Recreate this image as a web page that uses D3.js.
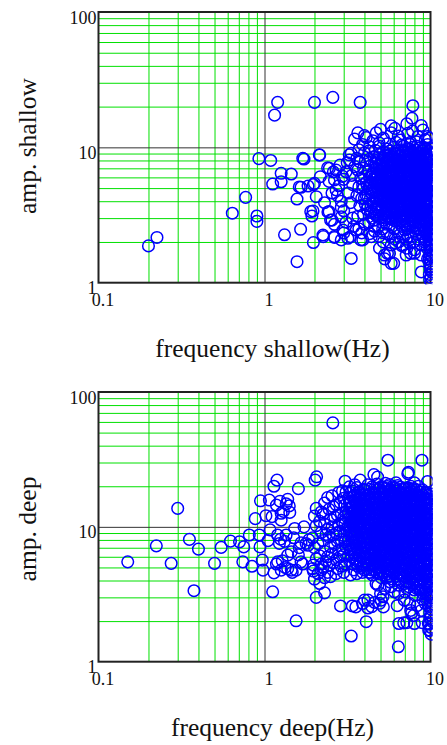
<!DOCTYPE html>
<html><head><meta charset="utf-8">
<script src="https://cdn.jsdelivr.net/npm/d3@7"></script>
<style>html,body{margin:0;padding:0;background:#fff;}svg{display:block;}</style>
</head><body>
<script>
// ---- tick definitions ----
const xMajorTicks = [0.1, 1, 10];
const xTickLabels = ["0.1", "1", "10"];
const yMajorTicks = [1, 10, 100];
const yTickLabels = ["1", "10", "100"];
const xMinorGrid = [0.2,0.3,0.4,0.5,0.6,0.7,0.8,0.9,2,3,4,5,6,7,8,9];
const yMinorGrid = [2,3,4,5,6,7,8,9,20,30,40,50,60,70,80,90];
const xDarkGrid = [1];
const yDarkGrid = [10];

const panelTitlesX = ["frequency shallow(Hz)", "frequency deep(Hz)"];
const panelTitlesY = ["amp. shallow", "amp. deep"];

// ---- shallow: [frequency Hz, amplitude] ----
const shallowData = [
[0.2,1.87],[0.225,2.16],[0.64,3.26],[0.77,4.27],[0.9,3.11],[0.9,2.84],[0.925,8.25],[1.09,8.0],[1.12,5.36],[1.26,6.43],[1.26,5.57],[1.45,6.35],
[1.2,21.5],[1.15,17.3],[2.0,21.5],[2.58,23.4],[3.77,21.5],[7.83,20.3],[7.73,16.4],[1.73,8.2],[2.15,8.78],[1.57,4.15],[1.65,2.48],[1.32,2.26],
[1.57,1.43],[1.97,1.98],[2.26,2.19],[1.66,5.07],[1.83,5.18],[2.0,5.42],[2.17,6.07],[2.05,4.32],[1.96,3.39],[1.93,3.11],[2.41,3.33],[2.55,2.9],
[2.46,7.0],[2.7,6.8],[3.33,1.51],[2.64,2.16],[2.97,2.45],[3.18,2.13],[3.57,2.45],[3.91,2.07],[3.33,9.04],[3.25,8.07],[3.49,11.5],[3.65,12.8],
[4.71,12.8],[5.8,14.4],[4.29,10.1],[7.3,12.7],[9.0,13.4],[8.8,1.2],[5.8,1.39],[5.28,1.6],[5.66,1.65],[4.93,1.8],[7.14,1.6],[6.82,1.9],[8.0,1.65],
[5.8,12.8],[9.6,12.0],[5.2,11.7],[6.6,11.3],[8.2,11.0],[3.24,8.8],[2.14,8.8],[1.7,8.3],[2.4,7.05],[2.6,6.6],[1.62,5.1],[1.97,5.3],[2.64,5.75],
[2.7,4.85],[2.75,4.4],[1.9,3.35],[2.45,3.35],[2.5,2.9],[2.9,3.07],[2.25,2.25],[2.63,2.19],[3.0,2.33],[3.3,2.19],[2.9,2.07],[3.8,2.07],[3.85,2.33],
[5.5,1.65],[6.0,1.39],[5.3,1.5],[7.6,1.65],[2.9,3.6],[2.3,3.9],[2.64,2.7],[4.4,2.19],[4.6,2.6],[5.2,2.33],[6.15,1.96],[6.7,1.88],[7.5,1.96],
[7.3,2.19],[7.0,2.45],[2.8,5.2],[2.9,4.0],[3.0,5.8],[3.1,6.6],[3.2,4.6],[3.0,3.4],[3.3,3.9],[3.4,5.3],[3.5,7.2],[3.1,2.8],[3.4,3.0],[2.85,7.4],
[3.6,8.3],[3.35,6.2],[2.95,6.1],[3.15,7.7],[2.55,4.6],[2.45,5.6],[3.45,2.6],[3.7,9.6],[3.9,10.5],[4.1,11.8],[4.5,11.2],[4.9,10.8],[5.5,10.6],
[6.2,10.9],[6.9,10.2],[7.6,10.9],[8.4,12.0],[9.3,11.4],[4.0,12.2],[5.0,13.6],[6.4,12.1],[7.8,13.2],[8.8,14.5],[6.1,13.8],[7.2,14.9],[9.8,11.7],
[3.7,2.5],[3.65,3.1],[3.75,3.7],[3.6,4.4],[3.7,5.1],[3.8,5.9],[3.65,6.8],[3.75,7.8],
[4.0,2.7],[3.95,3.2],[4.05,3.8],[4.0,4.2],[3.9,4.9],[4.1,5.5],[4.0,6.1],[3.95,7.0],[4.05,8.0],[4.0,9.1],
[4.3,2.3],[4.25,2.8],[4.35,3.3],[4.2,3.7],[4.3,4.1],[4.4,4.6],[4.25,5.0],[4.35,5.5],[4.3,6.0],[4.2,6.6],[4.35,7.3],[4.3,8.2],[4.25,9.4],
[4.6,2.4],[4.55,2.9],[4.65,3.2],[4.6,3.5],[4.5,3.9],[4.7,4.3],[4.6,4.7],[4.55,5.1],[4.65,5.5],[4.6,6.0],[4.5,6.5],[4.7,7.0],[4.6,7.7],[4.55,8.5],[4.65,9.5],
[4.9,2.2],[4.85,2.6],[4.95,3.0],[4.9,3.3],[4.8,3.6],[5.0,4.0],[4.9,4.4],[4.85,4.8],[4.95,5.2],[4.9,5.7],[4.8,6.2],[5.0,6.8],[4.9,7.4],[4.85,8.1],[4.95,8.9],[4.9,10.2],
[5.2,2.0],[5.15,2.5],[5.25,2.9],[5.2,3.2],[5.1,3.5],[5.3,3.8],[5.2,4.2],[5.15,4.6],[5.25,5.0],[5.2,5.4],[5.1,5.9],[5.3,6.4],[5.2,7.0],[5.15,7.6],[5.25,8.4],[5.2,9.3],
[5.5,2.3],[5.45,2.7],[5.55,3.05],[5.5,3.35],[5.4,3.7],[5.6,4.0],[5.5,4.4],[5.45,4.8],[5.55,5.2],[5.5,5.6],[5.4,6.1],[5.6,6.6],[5.5,7.2],[5.45,7.9],[5.55,8.7],[5.5,9.7],
[5.8,1.9],[5.75,2.2],[5.85,2.6],[5.8,2.95],[5.7,3.25],[5.9,3.6],[5.8,3.9],[5.75,4.3],[5.85,4.7],[5.8,5.1],[5.7,5.5],[5.9,6.0],[5.8,6.5],[5.75,7.1],[5.85,7.7],[5.8,8.5],[5.7,9.4],
[6.1,2.1],[6.05,2.5],[6.15,2.85],[6.1,3.15],[6.0,3.45],[6.2,3.8],[6.1,4.1],[6.05,4.5],[6.15,4.9],[6.1,5.3],[6.0,5.7],[6.2,6.2],[6.1,6.8],[6.05,7.4],[6.15,8.1],[6.1,8.9],[6.0,10.0],
[6.45,2.0],[6.4,2.35],[6.5,2.75],[6.45,3.05],[6.35,3.35],[6.55,3.7],[6.45,4.0],[6.4,4.4],[6.5,4.8],[6.45,5.2],[6.35,5.6],[6.55,6.1],[6.45,6.6],[6.4,7.2],[6.5,7.8],[6.45,8.6],[6.35,9.5],
[6.8,2.2],[6.75,2.6],[6.85,2.95],[6.8,3.25],[6.7,3.55],[6.9,3.9],[6.8,4.2],[6.75,4.6],[6.85,5.0],[6.8,5.4],[6.7,5.9],[6.9,6.4],[6.8,7.0],[6.75,7.6],[6.85,8.3],[6.8,9.1],[6.7,10.4],
[7.2,1.8],[7.15,2.1],[7.25,2.5],[7.2,2.85],[7.1,3.15],[7.3,3.5],[7.2,3.8],[7.15,4.1],[7.25,4.5],[7.2,4.9],[7.1,5.3],[7.3,5.8],[7.2,6.3],[7.15,6.8],[7.25,7.4],[7.2,8.0],[7.1,8.8],[7.3,9.7],
[7.6,2.2],[7.55,2.6],[7.65,2.9],[7.6,3.2],[7.5,3.5],[7.7,3.85],[7.6,4.2],[7.55,4.6],[7.65,5.0],[7.6,5.5],[7.5,6.0],[7.7,6.5],[7.6,7.1],[7.55,7.7],[7.65,8.4],[7.6,9.3],[7.5,10.6],
[8.0,1.75],[7.95,2.0],[8.05,2.4],[8.0,2.8],[7.9,3.1],[8.1,3.4],[8.0,3.7],[7.95,4.0],[8.05,4.4],[8.0,4.8],[7.9,5.2],[8.1,5.7],[8.0,6.2],[7.95,6.7],[8.05,7.3],[8.0,7.9],[7.9,8.6],[8.1,9.6],
[8.4,2.1],[8.35,2.5],[8.45,2.8],[8.4,3.1],[8.3,3.4],[8.5,3.75],[8.4,4.1],[8.35,4.5],[8.45,4.9],[8.4,5.4],[8.3,5.9],[8.5,6.4],[8.4,7.0],[8.35,7.6],[8.45,8.3],[8.4,9.1],[8.3,10.2],
[8.8,1.6],[8.75,1.9],[8.85,2.3],[8.8,2.7],[8.7,3.0],[8.9,3.3],[8.8,3.6],[8.75,3.9],[8.85,4.3],[8.8,4.7],[8.7,5.1],[8.9,5.6],[8.8,6.1],[8.75,6.6],[8.85,7.2],[8.8,7.8],[8.7,8.5],[8.9,9.4],
[9.2,2.0],[9.15,2.4],[9.25,2.8],[9.2,3.1],[9.1,3.4],[9.3,3.7],[9.2,4.1],[9.15,4.5],[9.25,4.9],[9.2,5.3],[9.1,5.8],[9.3,6.3],[9.2,6.9],[9.15,7.5],[9.25,8.2],[9.2,9.0],[9.1,9.9],
[9.6,1.5],[9.55,1.8],[9.65,2.2],[9.6,2.6],[9.5,2.9],[9.7,3.2],[9.6,3.5],[9.55,3.8],[9.65,4.2],[9.6,4.6],[9.5,5.0],[9.7,5.5],[9.6,6.0],[9.55,6.5],[9.65,7.1],[9.6,7.7],[9.5,8.4],[9.7,9.3],[9.6,10.5],
[9.95,1.3],[9.9,1.6],[10.0,1.9],[9.95,2.3],[9.85,2.7],[10.0,3.0],[9.95,3.3],[9.9,3.7],[10.0,4.0],[9.95,4.4],[9.85,4.8],[10.0,5.2],[9.95,5.7],[9.9,6.2],[10.0,6.8],[9.95,7.4],[9.85,8.1],[10.0,8.9],[9.95,9.8],
[10.1,1.0],[9.9,1.05],[10.05,1.1],[9.85,1.15],[10.15,1.2],[9.95,1.25],[10.1,1.32],[9.9,1.38],[10.05,1.45],[9.8,1.5],[10.15,1.55],[9.95,1.62],[10.1,1.7],[9.9,1.76],
[10.05,1.84],[9.85,1.92],[10.15,2.0],[9.95,2.08],[10.1,2.17],[9.9,2.26],[10.05,2.36],[9.85,2.46],[10.15,2.55],[9.95,2.66],[10.1,2.78],[9.9,2.9],[10.05,3.02],[9.85,3.15]
];

// densest part of the shallow cloud (overlapping markers read as solid blue)
const shallowCoreData = [
[4.75,3.1],[4.7,3.45],[4.8,3.8],[4.75,4.2],[4.7,4.6],[4.8,5.0],[4.75,5.45],[4.7,5.9],[4.8,6.4],[4.75,7.0],[4.7,7.6],[4.8,8.3],
[5.05,3.05],[5.0,3.4],[5.1,3.7],[5.05,4.1],[5.0,4.5],[5.1,4.9],[5.05,5.3],[5.0,5.75],[5.1,6.2],[5.05,6.7],[5.0,7.3],[5.1,8.0],
[5.35,3.0],[5.3,3.3],[5.4,3.6],[5.35,3.95],[5.3,4.35],[5.4,4.75],[5.35,5.15],[5.3,5.6],[5.4,6.05],[5.35,6.55],[5.3,7.1],[5.4,7.8],[5.35,8.6],
[5.65,3.1],[5.6,3.45],[5.7,3.8],[5.65,4.15],[5.6,4.55],[5.7,4.95],[5.65,5.35],[5.6,5.8],[5.7,6.3],[5.65,6.85],[5.6,7.4],[5.7,8.1],[5.65,8.9],
[5.95,3.0],[5.9,3.35],[6.0,3.7],[5.95,4.05],[5.9,4.45],[6.0,4.85],[5.95,5.25],[5.9,5.7],[6.0,6.15],[5.95,6.65],[5.9,7.2],[6.0,7.9],[5.95,8.7],
[6.3,2.9],[6.25,3.25],[6.35,3.55],[6.3,3.9],[6.25,4.25],[6.35,4.65],[6.3,5.05],[6.25,5.45],[6.35,5.9],[6.3,6.4],[6.25,6.95],[6.35,7.5],[6.3,8.2],[6.25,9.0],
[6.6,2.85],[6.55,3.15],[6.65,3.45],[6.6,3.8],[6.55,4.15],[6.65,4.55],[6.6,4.95],[6.55,5.35],[6.65,5.8],[6.6,6.3],[6.55,6.85],[6.65,7.4],[6.6,8.0],[6.55,8.8],[6.65,9.6],
[7.0,2.7],[6.95,3.05],[7.05,3.4],[7.0,3.7],[6.95,4.05],[7.05,4.4],[7.0,4.8],[6.95,5.2],[7.05,5.6],[7.0,6.1],[6.95,6.6],[7.05,7.2],[7.0,7.8],[6.95,8.5],[7.05,9.3],
[7.4,2.75],[7.35,3.05],[7.45,3.4],[7.4,3.7],[7.35,4.0],[7.45,4.4],[7.4,4.8],[7.35,5.25],[7.45,5.7],[7.4,6.2],[7.35,6.75],[7.45,7.35],[7.4,8.0],[7.35,8.8],[7.45,9.7],
[7.8,2.6],[7.75,2.95],[7.85,3.3],[7.8,3.6],[7.75,3.9],[7.85,4.25],[7.8,4.6],[7.75,5.0],[7.85,5.45],[7.8,5.9],[7.75,6.45],[7.85,7.0],[7.8,7.6],[7.75,8.3],[7.85,9.1],[7.8,10.0],
[8.2,2.3],[8.15,2.65],[8.25,2.95],[8.2,3.25],[8.15,3.55],[8.25,3.9],[8.2,4.25],[8.15,4.65],[8.25,5.1],[8.2,5.55],[8.15,6.05],[8.25,6.6],[8.2,7.2],[8.15,7.9],[8.25,8.7],
[8.6,2.45],[8.55,2.85],[8.65,3.15],[8.6,3.45],[8.55,3.8],[8.65,4.15],[8.6,4.55],[8.55,4.95],[8.65,5.35],[8.6,5.8],[8.55,6.35],[8.65,6.9],[8.6,7.5],[8.55,8.2],[8.65,9.0],[8.6,9.9],
[9.0,2.2],[8.95,2.6],[9.05,2.95],[9.0,3.25],[8.95,3.55],[9.05,3.9],[9.0,4.3],[8.95,4.7],[9.05,5.1],[9.0,5.55],[8.95,6.05],[9.05,6.6],[9.0,7.2],[8.95,7.85],[9.05,8.6],[9.0,9.5],
[9.4,2.05],[9.35,2.45],[9.45,2.75],[9.4,3.05],[9.35,3.35],[9.45,3.65],[9.4,4.0],[9.35,4.4],[9.45,4.8],[9.4,5.2],[9.35,5.65],[9.45,6.15],[9.4,6.7],[9.35,7.3],[9.45,8.0],[9.4,8.8],[9.35,9.7],
[9.8,2.1],[9.75,2.5],[9.85,2.85],[9.8,3.15],[9.75,3.45],[9.85,3.85],[9.8,4.2],[9.75,4.6],[9.85,5.0],[9.8,5.45],[9.75,5.95],[9.85,6.5],[9.8,7.1],[9.75,7.7],[9.85,8.5],[9.8,9.3],
[4.45,3.0],[4.4,3.4],[4.5,4.0],[4.45,4.8],[4.4,5.3],[4.5,5.8],[4.45,6.3],[4.15,3.5],[4.1,4.4],[4.15,5.2],[3.85,4.2],[3.9,5.3]
];

// ---- deep: [frequency Hz, amplitude] ----
const deepData = [
[0.15,5.5],[0.223,7.23],[0.274,5.36],[0.30,13.7],[0.353,8.07],[0.40,6.84],[0.376,3.36],[0.5,5.36],[0.548,7.04],[0.624,7.84],[0.707,7.74],[0.75,7.1],
[0.74,5.5],[0.84,5.1],[0.81,8.7],[0.88,11.5],[0.93,8.7],[0.94,7.1],[0.97,5.67],[0.98,4.78],[0.946,15.6],[1.07,15.8],[1.12,3.3],[1.14,4.56],[1.19,22.2],
[1.14,20.0],[1.11,11.9],[1.26,11.2],[1.18,14.5],[1.38,16.0],[1.41,14.3],[1.6,19.2],[1.26,12.6],[1.2,8.7],[1.23,7.53],[1.35,8.7],[1.45,6.53],[1.38,6.17],
[1.2,5.5],[1.26,4.78],[1.45,4.78],[1.55,4.78],[1.66,5.5],[1.52,9.73],[1.73,10.0],[1.78,7.53],[1.55,2.01],[2.05,3.0],[2.3,3.24],[2.02,22.2],[2.06,23.5],
[2.58,59],[3.06,21.8],[3.77,22.2],[4.56,24.4],[4.8,23.4],[5.54,31.2],[8.88,31.2],[7.37,25.4],[9.6,21.7],[6.2,21.2],[8.0,21.2],[2.87,2.59],[3.38,2.59],
[3.33,1.55],[4.1,1.98],[4.0,2.86],[4.43,2.56],[4.93,2.71],[5.17,3.03],[4.82,3.7],[6.4,1.29],[6.45,1.92],[6.9,1.94],[8.0,1.92],[7.9,2.2],[7.7,2.3],
[6.95,2.86],[6.06,3.3],[6.4,3.2],[8.1,3.1],[9.75,1.72],[9.7,1.92],[7.3,24.8],[5.05,2.86],[4.2,2.86],[4.7,3.8],[5.54,4.5],[7.6,2.4],[8.8,2.4],[9.3,2.7],
[9.6,4.5],[4.0,4.78],[1.05,7.9],[1.25,8.1],[1.32,7.8],[1.18,5.3],[1.33,5.0],[1.28,5.6],[1.38,4.9],[1.3,13.0],[1.35,14.8],[1.24,15.5],[1.42,12.8],
[1.02,12.1],[1.08,9.5],[1.5,8.3],[1.6,6.2],[1.7,5.3],[1.62,7.0],[1.85,8.0],[1.83,7.3],[1.66,7.6],[1.47,4.6],[1.97,4.7],[1.97,5.2],[2.2,4.8],[2.4,4.6],
[2.5,4.27],[2.7,4.5],[3.0,4.6],[3.3,4.4],[3.6,4.5],[4.3,4.6],[2.05,13.7],[2.2,12.9],[3.55,2.55],[3.9,2.7],[4.2,2.5],[4.6,2.75],[5.0,3.2],[5.3,3.5],
[5.2,2.55],[8.3,2.6],[8.6,3.4],[9.0,2.9],[8.9,1.95],[7.2,1.95],[7.5,2.7],[5.8,3.6],[6.3,2.6],[7.0,3.3],[7.4,3.6],
[2.0,4.1],[1.95,4.9],[2.05,5.8],[2.0,7.0],[1.95,8.3],[2.05,10.2],[2.0,12.0],
[2.15,3.8],[2.1,4.5],[2.2,5.3],[2.15,6.1],[2.1,7.5],[2.2,9.1],[2.15,11.0],
[2.3,4.2],[2.25,5.0],[2.35,5.6],[2.3,6.6],[2.25,7.9],[2.35,8.8],[2.3,10.5],[2.25,12.4],[2.3,15.0],
[2.45,5.2],[2.4,6.0],[2.5,7.1],[2.45,8.4],[2.4,9.6],[2.5,11.4],[2.45,13.5],[2.4,16.5],
[2.6,5.4],[2.55,6.3],[2.65,7.4],[2.6,8.7],[2.55,10.0],[2.65,11.8],[2.6,14.1],[2.55,17.0],
[2.75,4.9],[2.7,5.7],[2.8,6.7],[2.75,7.8],[2.7,9.0],[2.8,10.4],[2.75,12.2],[2.7,14.6],[2.8,18.0],
[2.9,5.1],[2.85,6.0],[2.95,6.9],[2.9,8.0],[2.85,9.3],[2.95,10.8],[2.9,12.6],[2.85,15.2],[2.95,18.5],
[3.05,5.3],[3.0,6.2],[3.1,7.1],[3.05,7.7],[3.0,8.6],[3.1,9.6],[3.05,10.5],[3.0,11.7],[3.1,13.0],[3.05,14.5],[3.0,16.3],[3.1,18.2],
[3.25,5.6],[3.2,6.1],[3.3,6.7],[3.25,7.3],[3.2,7.9],[3.3,8.5],[3.25,9.2],[3.2,10.0],[3.3,10.8],[3.25,11.7],[3.2,12.7],[3.3,13.8],[3.25,15.0],[3.2,16.4],[3.3,18.0],[3.25,19.8],
[3.45,4.8],[3.4,5.3],[3.5,5.8],[3.45,6.4],[3.4,7.0],[3.5,7.6],[3.45,8.2],[3.4,8.9],[3.5,9.6],[3.45,10.4],[3.4,11.2],[3.5,12.1],[3.45,13.1],[3.4,14.2],[3.5,15.4],[3.45,16.8],[3.4,18.4],[3.5,20.5],
[3.65,5.1],[3.6,5.6],[3.7,6.1],[3.65,6.7],[3.6,7.3],[3.7,7.9],[3.65,8.6],[3.6,9.3],[3.7,10.1],[3.65,10.9],[3.6,11.8],[3.7,12.8],[3.65,13.9],[3.6,15.1],[3.7,16.5],[3.65,18.0],[3.6,19.6],
[3.9,4.6],[3.85,5.0],[3.95,5.5],[3.9,6.0],[3.8,6.5],[3.95,7.1],[3.9,7.7],[3.85,8.3],[3.95,9.0],[3.9,9.8],[3.8,10.6],[3.95,11.5],[3.9,12.4],[3.85,13.4],[3.95,14.6],[3.9,15.9],[3.8,17.3],[3.95,19.0],
[4.15,4.9],[4.1,5.4],[4.2,5.9],[4.15,6.4],[4.05,7.0],[4.2,7.6],[4.15,8.2],[4.1,8.9],[4.2,9.7],[4.15,10.5],[4.05,11.4],[4.2,12.3],[4.15,13.3],[4.1,14.4],[4.2,15.7],[4.15,17.1],[4.05,18.7],[4.2,20.5],
[4.45,4.4],[4.4,4.8],[4.5,5.2],[4.45,5.7],[4.35,6.2],[4.5,6.7],[4.45,7.3],[4.4,7.9],[4.5,8.6],[4.45,9.3],[4.35,10.1],[4.5,10.9],[4.45,11.8],[4.4,12.8],[4.5,13.9],[4.45,15.1],[4.35,16.5],[4.5,18.0],[4.45,19.8],
[4.75,4.6],[4.7,5.0],[4.8,5.5],[4.75,6.0],[4.65,6.5],[4.8,7.0],[4.75,7.6],[4.7,8.3],[4.8,9.0],[4.75,9.7],[4.65,10.5],[4.8,11.4],[4.75,12.4],[4.7,13.5],[4.8,14.7],[4.75,16.0],[4.65,17.4],[4.8,19.0],[4.75,20.8],
[5.05,4.2],[5.0,4.7],[5.1,5.2],[5.05,5.7],[4.95,6.2],[5.1,6.8],[5.05,7.4],[5.0,8.0],[5.1,8.7],[5.05,9.4],[4.95,10.2],[5.1,11.1],[5.05,12.0],[5.0,13.0],[5.1,14.1],[5.05,15.3],[4.95,16.7],[5.1,18.2],[5.05,19.9],
[5.35,4.4],[5.3,4.9],[5.4,5.4],[5.35,5.9],[5.25,6.4],[5.4,7.0],[5.35,7.6],[5.3,8.2],[5.4,8.9],[5.35,9.7],[5.25,10.5],[5.4,11.4],[5.35,12.4],[5.3,13.5],[5.4,14.7],[5.35,16.0],[5.25,17.5],[5.4,19.2],[5.35,21.0],
[5.7,3.9],[5.65,4.3],[5.75,4.8],[5.7,5.3],[5.6,5.8],[5.75,6.3],[5.7,6.9],[5.65,7.5],[5.75,8.1],[5.7,8.8],[5.6,9.6],[5.75,10.4],[5.7,11.3],[5.65,12.3],[5.75,13.3],[5.7,14.5],[5.6,15.8],[5.75,17.2],[5.7,18.8],[5.65,20.6],
[6.05,4.5],[6.0,5.0],[6.1,5.5],[6.05,6.0],[5.95,6.6],[6.1,7.2],[6.05,7.8],[6.0,8.5],[6.1,9.2],[6.05,10.0],[5.95,10.9],[6.1,11.8],[6.05,12.8],[6.0,13.9],[6.1,15.1],[6.05,16.4],[5.95,17.9],[6.1,19.6],
[6.4,3.7],[6.35,4.1],[6.45,4.6],[6.4,5.1],[6.3,5.6],[6.45,6.1],[6.4,6.7],[6.35,7.3],[6.45,7.9],[6.4,8.6],[6.3,9.4],[6.45,10.2],[6.4,11.1],[6.35,12.0],[6.45,13.1],[6.4,14.2],[6.3,15.5],[6.45,16.9],[6.4,18.5],[6.35,20.2],
[6.8,4.3],[6.75,4.8],[6.85,5.3],[6.8,5.8],[6.7,6.3],[6.85,6.9],[6.8,7.5],[6.75,8.2],[6.85,8.9],[6.8,9.7],[6.7,10.5],[6.85,11.4],[6.8,12.4],[6.75,13.5],[6.85,14.7],[6.8,16.0],[6.7,17.5],[6.85,19.2],
[7.2,3.5],[7.15,3.9],[7.25,4.4],[7.2,4.9],[7.1,5.4],[7.25,5.9],[7.2,6.5],[7.15,7.1],[7.25,7.7],[7.2,8.4],[7.1,9.1],[7.25,9.9],[7.2,10.8],[7.15,11.7],[7.25,12.7],[7.2,13.8],[7.1,15.0],[7.25,16.3],[7.2,17.8],[7.15,19.5],
[7.6,4.1],[7.55,4.6],[7.65,5.1],[7.6,5.6],[7.5,6.1],[7.65,6.7],[7.6,7.3],[7.55,7.9],[7.65,8.6],[7.6,9.3],[7.5,10.1],[7.65,11.0],[7.6,12.0],[7.55,13.0],[7.65,14.1],[7.6,15.4],[7.5,16.8],[7.65,18.3],[7.6,20.0],
[8.0,3.4],[7.95,3.8],[8.05,4.3],[8.0,4.8],[7.9,5.3],[8.05,5.8],[8.0,6.3],[7.95,6.9],[8.05,7.5],[8.0,8.2],[7.9,8.9],[8.05,9.7],[8.0,10.5],[7.95,11.4],[8.05,12.4],[8.0,13.5],[7.9,14.7],[8.05,16.0],[8.0,17.5],[7.95,19.2],
[8.5,3.6],[8.45,4.0],[8.55,4.5],[8.5,5.0],[8.4,5.5],[8.55,6.0],[8.5,6.6],[8.45,7.2],[8.55,7.8],[8.5,8.5],[8.4,9.3],[8.55,10.1],[8.5,11.0],[8.45,11.9],[8.55,12.9],[8.5,14.0],[8.4,15.3],[8.55,16.7],[8.5,18.2],[8.45,20.0],
[9.0,3.2],[8.95,3.6],[9.05,4.1],[9.0,4.6],[8.9,5.1],[9.05,5.6],[9.0,6.1],[8.95,6.7],[9.05,7.3],[9.0,8.0],[8.9,8.7],[9.05,9.5],[9.0,10.3],[8.95,11.2],[9.05,12.2],[9.0,13.3],[8.9,14.5],[9.05,15.8],[9.0,17.2],[8.95,18.8],
[9.5,3.0],[9.45,3.4],[9.55,3.8],[9.5,4.3],[9.4,4.8],[9.55,5.3],[9.5,5.8],[9.45,6.4],[9.55,7.0],[9.5,7.6],[9.4,8.3],[9.55,9.0],[9.5,9.8],[9.45,10.7],[9.55,11.6],[9.5,12.6],[9.4,13.7],[9.55,14.9],[9.5,16.2],[9.45,17.7],
[9.9,5.2],[9.85,5.7],[9.95,6.3],[9.9,6.9],[9.8,7.5],[9.95,8.2],[9.9,8.9],[9.85,9.7],[9.95,10.6],[9.9,11.5],[9.8,12.5],[9.95,13.6],[9.9,14.8],[9.85,16.1],[9.95,17.6],
[10.1,1.6],[9.9,1.7],[10.05,1.8],[9.85,1.9],[10.15,2.0],[9.95,2.1],[10.1,2.2],[9.9,2.32],[10.05,2.45],[9.85,2.58],[10.15,2.7],[9.95,2.85],[10.1,3.0],
[9.9,3.15],[10.05,3.3],[9.85,3.5],[10.15,3.7],[9.95,3.9],[10.1,4.1],[9.9,4.35],[10.05,4.6],[9.85,4.85]
];

// densest part of the deep cloud
const deepCoreData = [
[3.35,6.0],[3.3,6.9],[3.4,7.7],[3.35,8.6],[3.3,9.4],[3.4,10.2],[3.35,11.0],[3.3,11.9],[3.4,12.9],[3.35,14.0],[3.3,15.3],[3.4,16.7],
[3.55,5.4],[3.5,6.2],[3.6,7.0],[3.55,7.8],[3.5,8.5],[3.6,9.2],[3.55,10.0],[3.5,10.8],[3.6,11.6],[3.55,12.5],[3.5,13.5],[3.6,14.6],[3.55,15.9],[3.5,17.3],
[3.8,5.3],[3.75,6.2],[3.8,7.0],[3.75,7.6],[3.8,8.4],[3.75,9.1],[3.8,10.0],[3.75,10.8],[3.8,11.7],[3.75,12.7],[3.8,13.8],[3.75,15.0],[3.8,16.4],[3.75,18.0],
[4.0,5.2],[3.98,5.8],[4.02,6.4],[4.0,7.0],[3.98,7.6],[4.02,8.3],[4.0,9.0],[3.98,9.8],[4.02,10.6],[4.0,11.5],[3.98,12.5],[4.02,13.6],[4.0,14.8],[3.98,16.2],[4.02,17.6],
[4.3,4.6],[4.28,5.2],[4.32,5.7],[4.3,6.3],[4.28,6.9],[4.32,7.5],[4.3,8.2],[4.28,8.9],[4.32,9.7],[4.3,10.5],[4.28,11.4],[4.32,12.4],[4.3,13.5],[4.28,14.7],[4.32,16.0],[4.3,17.4],[4.28,19.0],
[4.6,4.8],[4.58,5.3],[4.62,5.9],[4.6,6.4],[4.58,7.0],[4.62,7.6],[4.6,8.3],[4.58,9.0],[4.62,9.8],[4.6,10.6],[4.58,11.5],[4.62,12.5],[4.6,13.6],[4.58,14.8],[4.62,16.1],[4.6,17.6],[4.58,19.2],
[4.9,4.5],[4.88,5.0],[4.92,5.5],[4.9,6.0],[4.88,6.6],[4.92,7.2],[4.9,7.8],[4.88,8.5],[4.92,9.2],[4.9,10.0],[4.88,10.8],[4.92,11.7],[4.9,12.7],[4.88,13.8],[4.92,15.0],[4.9,16.3],[4.88,17.8],[4.92,19.4],
[5.2,4.6],[5.18,5.1],[5.22,5.6],[5.2,6.1],[5.18,6.7],[5.22,7.3],[5.2,7.9],[5.18,8.6],[5.22,9.3],[5.2,10.1],[5.18,10.9],[5.22,11.8],[5.2,12.8],[5.18,13.9],[5.22,15.1],[5.2,16.4],[5.18,17.9],[5.22,19.5],
[5.5,4.2],[5.48,4.7],[5.52,5.2],[5.5,5.7],[5.48,6.2],[5.52,6.8],[5.5,7.4],[5.48,8.0],[5.52,8.7],[5.5,9.4],[5.48,10.2],[5.52,11.1],[5.5,12.0],[5.48,13.0],[5.52,14.1],[5.5,15.3],[5.48,16.7],[5.52,18.2],[5.5,19.9],
[5.9,4.1],[5.88,4.6],[5.92,5.1],[5.9,5.6],[5.88,6.1],[5.92,6.7],[5.9,7.3],[5.88,7.9],[5.92,8.6],[5.9,9.3],[5.88,10.1],[5.92,11.0],[5.9,11.9],[5.88,12.9],[5.92,14.0],[5.9,15.2],[5.88,16.6],[5.92,18.1],[5.9,19.8],
[6.2,4.3],[6.18,4.8],[6.22,5.3],[6.2,5.8],[6.18,6.3],[6.22,6.9],[6.2,7.5],[6.18,8.1],[6.22,8.8],[6.2,9.6],[6.18,10.4],[6.22,11.3],[6.2,12.3],[6.18,13.4],[6.22,14.6],[6.2,15.9],[6.18,17.3],[6.22,18.9],
[6.6,4.0],[6.58,4.5],[6.62,5.0],[6.6,5.5],[6.58,6.0],[6.62,6.6],[6.6,7.2],[6.58,7.8],[6.62,8.5],[6.6,9.2],[6.58,10.0],[6.62,10.9],[6.6,11.8],[6.58,12.8],[6.62,13.9],[6.6,15.1],[6.58,16.5],[6.62,18.0],[6.6,19.7],
[7.0,3.8],[6.98,4.3],[7.02,4.8],[7.0,5.3],[6.98,5.8],[7.02,6.4],[7.0,7.0],[6.98,7.6],[7.02,8.3],[7.0,9.0],[6.98,9.8],[7.02,10.6],[7.0,11.5],[6.98,12.5],[7.02,13.6],[7.0,14.8],[6.98,16.1],[7.02,17.6],[7.0,19.2],
[7.4,3.9],[7.38,4.4],[7.42,4.9],[7.4,5.4],[7.38,5.9],[7.42,6.5],[7.4,7.1],[7.38,7.7],[7.42,8.4],[7.4,9.1],[7.38,9.9],[7.42,10.7],[7.4,11.6],[7.38,12.6],[7.42,13.7],[7.4,14.9],[7.38,16.2],[7.42,17.7],[7.4,19.4],
[7.8,3.7],[7.78,4.2],[7.82,4.7],[7.8,5.2],[7.78,5.7],[7.82,6.2],[7.8,6.8],[7.78,7.4],[7.82,8.1],[7.8,8.8],[7.78,9.6],[7.82,10.4],[7.8,11.3],[7.78,12.3],[7.82,13.4],[7.8,14.6],[7.78,15.9],[7.82,17.3],[7.8,18.9],
[8.25,3.5],[8.23,4.0],[8.27,4.5],[8.25,5.0],[8.23,5.5],[8.27,6.1],[8.25,6.7],[8.23,7.3],[8.27,8.0],[8.25,8.7],[8.23,9.5],[8.27,10.3],[8.25,11.2],[8.23,12.2],[8.27,13.3],[8.25,14.5],[8.23,15.8],[8.27,17.2],[8.25,18.8],
[8.75,3.4],[8.73,3.9],[8.77,4.4],[8.75,4.9],[8.73,5.4],[8.77,5.9],[8.75,6.5],[8.73,7.1],[8.77,7.8],[8.75,8.5],[8.73,9.2],[8.77,10.0],[8.75,10.9],[8.73,11.8],[8.77,12.8],[8.75,14.0],[8.73,15.2],[8.77,16.6],[8.75,18.1],
[9.25,3.3],[9.23,3.8],[9.27,4.3],[9.25,4.8],[9.23,5.3],[9.27,5.8],[9.25,6.4],[9.23,7.0],[9.27,7.6],[9.25,8.3],[9.23,9.0],[9.27,9.8],[9.25,10.7],[9.23,11.6],[9.27,12.6],[9.25,13.7],[9.23,14.9],[9.27,16.2],[9.25,17.7],
[9.7,3.1],[9.68,3.6],[9.72,4.1],[9.7,4.6],[9.68,5.1],[9.72,5.6],[9.7,6.1],[9.68,6.7],[9.72,7.3],[9.7,8.0],[9.68,8.7],[9.72,9.5],[9.7,10.3],[9.68,11.2],[9.72,12.2],[9.7,13.3],[9.68,14.5],[9.72,15.8],[9.7,17.2]
];

const W = 447, H = 745;
const FONT = "'Liberation Serif','Times New Roman',Times,serif";
const svg = d3.select("body").append("svg").attr("width", W).attr("height", H);
svg.append("rect").attr("width", W).attr("height", H).attr("fill", "#fff");

function drawPanel(idx, data, top, bottom, xTitleY, yTitleY) {
  const left = 98.5, right = 430.5;
  const x = d3.scaleLog().domain([0.1, 10]).range([left, right]);
  const y = d3.scaleLog().domain([1, 100]).range([bottom, top]);
  const g = svg.append("g");

  g.append("g").attr("transform", `translate(0,${bottom})`)
    .call(d3.axisBottom(x).tickValues(xMinorGrid).tickSize(-(bottom - top)).tickFormat(""))
    .call(s => s.select(".domain").remove())
    .call(s => s.selectAll("line").attr("stroke", "#00e000").attr("stroke-width", 1));
  g.append("g").attr("transform", `translate(${left},0)`)
    .call(d3.axisLeft(y).tickValues(yMinorGrid).tickSize(-(right - left)).tickFormat(""))
    .call(s => s.select(".domain").remove())
    .call(s => s.selectAll("line").attr("stroke", "#00e000").attr("stroke-width", 1));
  g.append("g").attr("transform", `translate(0,${bottom})`)
    .call(d3.axisBottom(x).tickValues(xDarkGrid).tickSize(-(bottom - top)).tickFormat(""))
    .call(s => s.select(".domain").remove())
    .call(s => s.selectAll("line").attr("stroke", "#333").attr("stroke-width", 1));
  g.append("g").attr("transform", `translate(${left},0)`)
    .call(d3.axisLeft(y).tickValues(yDarkGrid).tickSize(-(right - left)).tickFormat(""))
    .call(s => s.select(".domain").remove())
    .call(s => s.selectAll("line").attr("stroke", "#333").attr("stroke-width", 1));

  g.append("rect").attr("x", left).attr("y", top).attr("width", right - left).attr("height", bottom - top)
    .attr("fill", "none").attr("stroke", "#222").attr("stroke-width", 2);

  const cid = "clip" + idx;
  svg.append("clipPath").attr("id", cid).append("rect")
    .attr("x", left - 1.5).attr("y", top - 1.5).attr("width", 432.7 - (left - 1.5)).attr("height", bottom - top + 3);

  g.append("g").attr("clip-path", `url(#${cid})`)
    .selectAll("circle").data(data).join("circle")
    .attr("cx", d => x(d[0])).attr("cy", d => y(d[1])).attr("r", 5.8)
    .attr("fill", "none").attr("stroke", "#0000ff").attr("stroke-width", 1.5);

  g.append("g").attr("transform", `translate(0,${bottom})`)
    .call(d3.axisBottom(x).tickValues(xMajorTicks).tickSize(0).tickPadding(11)
      .tickFormat((d, i) => xTickLabels[i]))
    .call(s => s.select(".domain").remove())
    .call(s => s.selectAll("text").attr("font-family", FONT).attr("font-size", 18).attr("fill", "#111").attr("dx", 4));
  g.append("g").attr("transform", `translate(${left},0)`)
    .call(d3.axisLeft(y).tickValues(yMajorTicks).tickSize(0).tickPadding(2)
      .tickFormat((d, i) => yTickLabels[i]))
    .call(s => s.select(".domain").remove())
    .call(s => s.selectAll("text").attr("font-family", FONT).attr("font-size", 18).attr("fill", "#111").attr("dy", 11));

  svg.append("text").attr("x", 272.5).attr("y", xTitleY).attr("text-anchor", "middle")
    .attr("font-family", FONT).attr("font-size", 25.5).attr("fill", "#111").text(panelTitlesX[idx]);
  svg.append("text").attr("transform", `translate(36,${yTitleY}) rotate(-90)`).attr("text-anchor", "middle")
    .attr("font-family", FONT).attr("font-size", 25.5).attr("fill", "#111").text(panelTitlesY[idx]);
}

drawPanel(0, shallowData.concat(shallowCoreData), 12, 282.7, 357, 146);
drawPanel(1, deepData.concat(deepCoreData), 392, 661.7, 736, 529);
</script>
</body></html>
